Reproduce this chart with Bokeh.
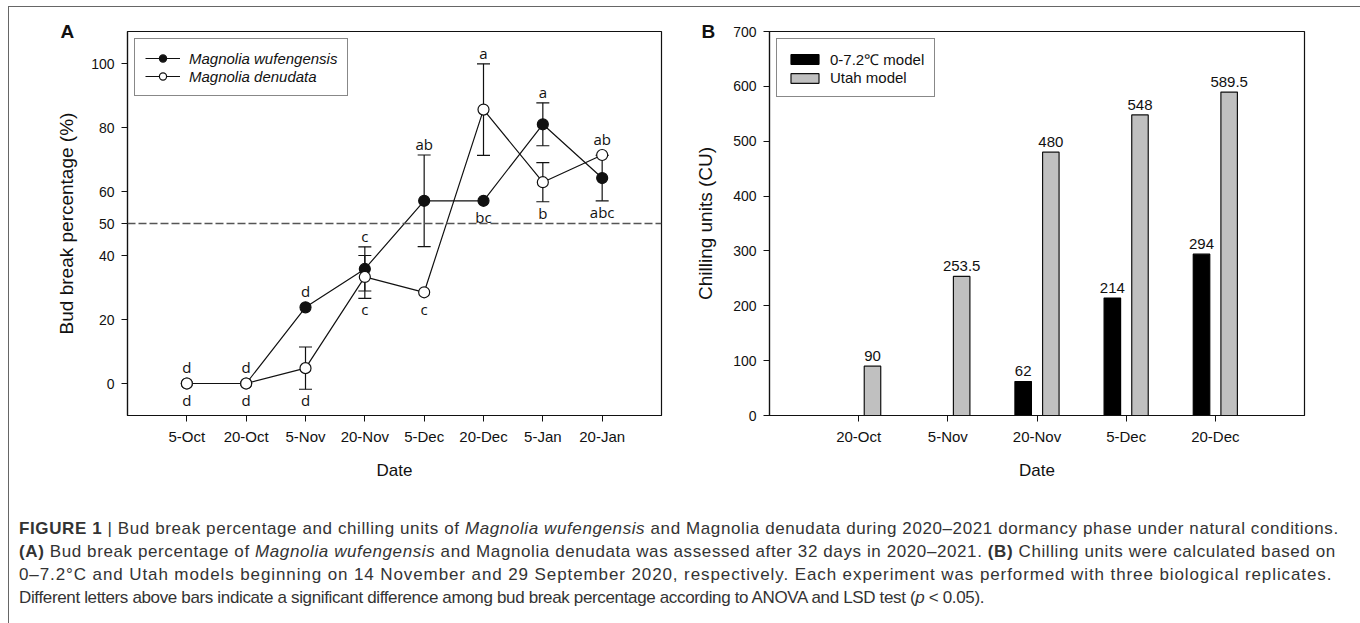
from bokeh.plotting import figure
from bokeh.models import (ColumnDataSource, Whisker, TeeHead, Span, Legend, LegendItem,
                          FixedTicker, Div, Range1d, Title)
from bokeh.layouts import row, column
from bokeh.core.properties import value
from bokeh.embed import file_html
from bokeh.resources import INLINE

# ---------------- data ----------------
dates_a = ["5-Oct", "20-Oct", "5-Nov", "20-Nov", "5-Dec", "20-Dec", "5-Jan", "20-Jan"]
wufengensis = [0, 0, 23.8, 35.8, 57.1, 57.1, 81.0, 64.2]
wufengensis_err = [0, 0, 0, 6.9, 14.3, 0, 6.7, 7.1]
denudata = [0, 0, 4.8, 33.3, 28.5, 85.6, 62.9, 71.4]
denudata_err = [0, 0, 6.6, 6.7, 0, 14.3, 6.1, 0]
wufengensis_letters = ["d", "d", "d", "c", "ab", "bc", "a", "abc"]
denudata_letters = ["d", "d", "d", "c", "c", "a", "b", "ab"]
y_ticks_a = [0, 20, 40, 50, 60, 80, 100]
threshold = 50

dates_b = ["20-Oct", "5-Nov", "20-Nov", "5-Dec", "20-Dec"]
cu_0_72 = [0, 0, 62, 214, 294]
cu_utah = [90, 253.5, 480, 548, 589.5]
y_ticks_b = [0, 100, 200, 300, 400, 500, 600, 700]

AX_FONT = "Liberation Sans"
LET_FONT = "Open Sans"
INK = "#111111"
FIG_H = 478


def style_axes(p, yticks):
    p.grid.visible = False
    p.outline_line_color = INK
    p.outline_line_width = 1.2
    for ax in (p.xaxis[0], p.yaxis[0]):
        ax.axis_line_color = INK
        ax.axis_line_width = 1.2
        ax.major_tick_line_color = INK
        ax.major_tick_in = 0
        ax.major_tick_out = 6
        ax.minor_tick_line_color = None
        ax.major_label_text_font = AX_FONT
        ax.major_label_text_color = INK
        ax.axis_label_text_font = AX_FONT
        ax.axis_label_text_font_style = "normal"
        ax.axis_label_text_color = INK
    p.xaxis[0].major_label_text_font_size = "15px"
    p.yaxis[0].major_label_text_font_size = "14px"
    p.xaxis[0].axis_label_text_font_size = "17px"
    p.yaxis[0].axis_label_text_font_size = "19px"
    p.yaxis[0].ticker = FixedTicker(ticks=yticks)
    p.xaxis[0].major_label_standoff = 6
    p.yaxis[0].major_label_standoff = 7
    p.xaxis[0].axis_label_standoff = 13


def panel_title(letter, offset):
    kw = dict(text=letter, align="left", offset=offset, text_font=AX_FONT,
              text_font_size="19px", text_font_style="bold", text_color=INK)
    try:
        return Title(standoff=-20, **kw)
    except Exception:
        return Title(standoff=0, **kw)


# ---------------- panel A ----------------
xa = list(range(1, len(dates_a) + 1))
pA = figure(width=671, height=FIG_H, output_backend="svg", toolbar_location=None,
            x_range=Range1d(0, len(dates_a) + 1), y_range=Range1d(-10, 110),
            min_border_left=118, min_border_right=19, min_border_top=24, min_border_bottom=70)
style_axes(pA, y_ticks_a)
pA.xaxis[0].ticker = FixedTicker(ticks=xa)
pA.xaxis[0].major_label_overrides = {x: d for x, d in zip(xa, dates_a)}
pA.xaxis.axis_label = "Date"
pA.yaxis.axis_label = "Bud break percentage (%)"
pA.yaxis[0].axis_label_standoff = 11
pA.title = panel_title("A", -67)

pA.add_layout(Span(location=threshold, dimension="width", line_color="#555555",
                   line_width=1.3, line_dash="8 3"))

R = 5.5
for vals, errs in ((wufengensis, wufengensis_err), (denudata, denudata_err)):
    src = ColumnDataSource(dict(
        x=[x for x, e in zip(xa, errs) if e > 0],
        upper=[v + e for v, e in zip(vals, errs) if e > 0],
        lower=[v - e for v, e in zip(vals, errs) if e > 0]))
    pA.add_layout(Whisker(source=src, base="x", upper="upper", lower="lower",
                          dimension="height", line_color=INK, line_width=1.2,
                          upper_head=TeeHead(size=13, line_color=INK, line_width=1.2),
                          lower_head=TeeHead(size=13, line_color=INK, line_width=1.2)))

lw = pA.line(xa, wufengensis, line_color=INK, line_width=1.2)
sw = pA.scatter(xa, wufengensis, size=2 * R, fill_color=INK, line_color=INK, line_width=1.2)
ld = pA.line(xa, denudata, line_color=INK, line_width=1.2)
sd = pA.scatter(xa, denudata, size=2 * R, fill_color="white", line_color=INK, line_width=1.2)

# significance letters: the higher series gets its letter above, the other below
up = dict(x=[], y=[], t=[], off=[])
dn = dict(x=[], y=[], t=[], off=[])
for i, x in enumerate(xa):
    w = (wufengensis[i], wufengensis_err[i], wufengensis_letters[i])
    d = (denudata[i], denudata_err[i], denudata_letters[i])
    hi, lo = (w, d) if wufengensis[i] > denudata[i] else (d, w)
    up["x"].append(x); up["y"].append(hi[0] + hi[1]); up["t"].append(hi[2])
    up["off"].append(-(1 + (R if hi[1] == 0 else 0)))
    dn["x"].append(x); dn["y"].append(lo[0] - lo[1]); dn["t"].append(lo[2])
    dn["off"].append(1 + (R if lo[1] == 0 else 0))
pA.text(x="x", y="y", text="t", y_offset="off", source=ColumnDataSource(up),
        text_font=value(LET_FONT), text_font_size="15px", text_color=INK,
        text_align="center", text_baseline="bottom")
pA.text(x="x", y="y", text="t", y_offset="off", source=ColumnDataSource(dn),
        text_font=value(LET_FONT), text_font_size="15px", text_color=INK,
        text_align="center", text_baseline="top")

legA = Legend(items=[LegendItem(label="Magnolia wufengensis", renderers=[lw, sw]),
                     LegendItem(label="Magnolia denudata", renderers=[ld, sd])],
              location="top_left", margin=7, padding=10, spacing=0,
              glyph_width=35, glyph_height=18, label_height=18, label_standoff=9,
              label_text_font=AX_FONT, label_text_font_size="15px",
              label_text_font_style="italic", label_text_color=INK,
              border_line_color=INK, border_line_width=1.2)
pA.add_layout(legA)

# ---------------- panel B ----------------
xb = list(range(1, len(dates_b) + 1))
pB = figure(width=670, height=FIG_H, output_backend="svg", toolbar_location=None,
            x_range=Range1d(0, len(dates_b) + 1), y_range=Range1d(0, 700),
            min_border_left=89, min_border_right=46, min_border_top=24, min_border_bottom=70)
style_axes(pB, y_ticks_b)
pB.xaxis[0].ticker = FixedTicker(ticks=xb)
pB.xaxis[0].major_label_overrides = {x: d for x, d in zip(xb, dates_b)}
pB.xaxis.axis_label = "Date"
pB.yaxis.axis_label = "Chilling units (CU)"
pB.yaxis[0].axis_label_standoff = 14
pB.title = panel_title("B", -68)

OFF, BW = 0.155, 0.185
src_k = ColumnDataSource(dict(x=[x - OFF for x in xb], top=cu_0_72,
                              lab=[("%g" % v) if v > 0 else "" for v in cu_0_72]))
src_g = ColumnDataSource(dict(x=[x + OFF for x in xb], top=cu_utah,
                              lab=["%g" % v for v in cu_utah]))
bk = pB.vbar(x="x", top="top", width=BW, source=src_k, fill_color="black",
             line_color="black", line_width=1.2)
bg = pB.vbar(x="x", top="top", width=BW, source=src_g, fill_color="#c0c0c0",
             line_color=INK, line_width=1.2)
for s in (src_k, src_g):
    pB.text(x="x", y="top", text="lab", source=s, y_offset=-5,
            text_font=value(AX_FONT), text_font_size="15px", text_color=INK,
            text_align="center", text_baseline="bottom")

legB = Legend(items=[LegendItem(label="0-7.2\u2103 model", renderers=[bk]),
                     LegendItem(label="Utah model", renderers=[bg])],
              location="top_left", margin=7, padding=10, spacing=0,
              glyph_width=35, glyph_height=12, label_height=17, label_standoff=8,
              label_text_font=AX_FONT, label_text_font_size="15px", label_text_color=INK,
              border_line_color=INK, border_line_width=1.2)
pB.add_layout(legB)

# ---------------- caption ----------------
caption_lines = [
    ("0.6px", "<b>FIGURE 1</b> | Bud break percentage and chilling units of <i>Magnolia wufengensis</i> "
              "and Magnolia denudata during 2020\u20132021 dormancy phase under natural conditions."),
    ("0.6px", "<b>(A)</b> Bud break percentage of <i>Magnolia wufengensis</i> and Magnolia denudata was "
              "assessed after 32 days in 2020\u20132021. <b>(B)</b> Chilling units were calculated based on"),
    ("0.9px", "0\u20137.2\u00b0C and Utah models beginning on 14 November and 29 September 2020, "
              "respectively. Each experiment was performed with three biological replicates."),
    ("-0.35px", "Different letters above bars indicate a significant difference among bud break percentage "
                "according to ANOVA and LSD test (<i>p</i> &lt; 0.05)."),
]
caption_html = "<br>".join('<span style="letter-spacing:%s">%s</span>' % (ls, t)
                           for ls, t in caption_lines)
cap = Div(text=caption_html, width=1341, height=130,
          styles={"font-family": "'Liberation Sans', Arial, sans-serif", "font-size": "17px",
                  "line-height": "23px", "color": "#333333", "white-space": "nowrap",
                  "padding-top": "27px", "padding-left": "5px", "box-sizing": "border-box"})

layout = column(row(pA, pB), cap, margin=(6, 0, 0, 8),
                styles={"border": "1px solid #666666", "border-bottom": "none"})

open("out.html", "w").write(file_html(layout, INLINE))
